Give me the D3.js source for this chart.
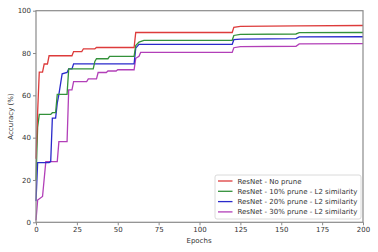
<!DOCTYPE html>
<html>
<head>
<meta charset="utf-8">
<script src="https://cdn.jsdelivr.net/npm/d3@7"></script>
<style>
  body { margin: 0; background: #fff; }
  text { font-family: "DejaVu Sans", sans-serif; }
</style>
</head>
<body>
<svg id="chart" width="378" height="252"></svg>
<script>
// values: [epoch, accuracy]
let noPrune = [[0,30],[1,52],[2,71],[4,71],[5,74.8],[7,74.8],[8,78.7],[22,78.7],[23,80.7],[28,80.7],[29,82],[36,82],[37,82.6],
  [60,82.6],[61,89.7],[120,89.7],[121,92.1],[125,92.6],[160,92.8],[200,93]];
let prune10 = [[0,20],[1,45],[2,51],[9,51],[10,51.8],[12,51.8],[13,60.5],[19,60.5],[20,72.5],[35,72.5],[36,76],[37,77.3],
  [44,77.3],[45,78.4],[60,78.4],[61,83.5],[63,85.2],[66,86],[120,86],[121,88.3],[125,88.8],[159,89],[161,89.6],[200,89.7]];
let prune20 = [[0,10],[1,28.2],[8,28.2],[9,28.7],[10,49.2],[12,49.2],[13,56.3],[14,60.5],[16,70.2],[19,70.8],[20,72.5],
  [22,72.5],[23,74.9],[60,74.9],[61,82.3],[63,84.1],[120,84.1],[121,86.3],[125,86.6],[159,86.8],[161,87.6],[200,87.7]];
let prune30 = [[0,1],[1,10.5],[4,12.2],[6,28.7],[13,28.7],[14,38.1],[19,38.1],[20,62.6],[22,62.6],[23,66.5],[31,66.5],
  [32,67.8],[37,67.8],[38,70.8],[43,70.8],[44,71.5],[49,71.5],[50,72.1],[60,72.1],[61,77.5],[63,78.5],[64,80.3],
  [120,80.3],[121,82.5],[125,83],[159,83.2],[161,84.3],[200,84.4]];

let seriesNames = ["ResNet - No prune", "ResNet - 10% prune - L2 similarity",
  "ResNet - 20% prune - L2 similarity", "ResNet - 30% prune - L2 similarity"];
let seriesColors = ["#dd3b3b", "#33913a", "#2a2acb", "#b23fb8"];
let xTicks = [0, 25, 50, 75, 100, 125, 150, 175, 200];
let yTicks = [0, 20, 40, 60, 80, 100];

let svg = d3.select("#chart");
let xScale = d3.scaleLinear().domain([0, 200]).range([36, 363]);
let yScale = d3.scaleLinear().domain([0, 100]).range([222.3, 10.7]);

let line = d3.line()
  .x(function(d) { return xScale(d[0]); })
  .y(function(d) { return yScale(d[1]); });

// series, last one drawn first
let allSeries = [noPrune, prune10, prune20, prune30];
for (let i = allSeries.length - 1; i >= 0; i--) {
  svg.append("path")
    .attr("d", line(allSeries[i]))
    .style("fill", "none")
    .style("stroke", seriesColors[i])
    .style("stroke-width", 1.3);
}

// frame
svg.append("rect")
  .attr("x", xScale(0)).attr("y", yScale(100))
  .attr("width", xScale(200) - xScale(0))
  .attr("height", yScale(0) - yScale(100))
  .style("fill", "none")
  .style("stroke", "#8a8a8a")
  .style("stroke-width", 1.2);

let xAxis = svg.append("g")
  .attr("transform", "translate(0," + yScale(0) + ")")
  .call(d3.axisBottom(xScale).tickValues(xTicks).tickSize(3).tickPadding(2));
let yAxis = svg.append("g")
  .attr("transform", "translate(" + xScale(0) + ",0)")
  .call(d3.axisLeft(yScale).tickValues(yTicks).tickSize(3).tickPadding(2));

[xAxis, yAxis].forEach(function(ax) {
  ax.select(".domain").remove();
  ax.selectAll("line").style("stroke", "#8a8a8a");
  ax.selectAll("text").style("font-family", "DejaVu Sans").style("font-size", "7px").style("fill", "#333");
});

svg.append("text")
  .attr("x", 199).attr("y", 242.5)
  .attr("text-anchor", "middle")
  .style("font-size", "7px").style("fill", "#333")
  .text("Epochs");
svg.append("text")
  .attr("transform", "translate(12.5," + yScale(50) + ") rotate(-90)")
  .attr("text-anchor", "middle")
  .style("font-size", "7px").style("fill", "#333")
  .text("Accuracy (%)");

// legend
let legend = svg.append("g").attr("transform", "translate(215,175)");
legend.append("rect")
  .attr("width", 146).attr("height", 44).attr("rx", 2)
  .style("fill", "#fff").style("fill-opacity", 0.85)
  .style("stroke", "#d0d0d0").style("stroke-width", 0.8);
seriesNames.forEach(function(name, i) {
  let y = 6 + i * 10.3;
  legend.append("line")
    .attr("x1", 3).attr("x2", 17.5).attr("y1", y).attr("y2", y)
    .style("stroke", seriesColors[i]).style("stroke-width", 1.3);
  legend.append("text")
    .attr("x", 22.5).attr("y", y + 2.5)
    .style("font-size", "7px").style("fill", "#333")
    .text(name);
});
</script>
</body>
</html>
